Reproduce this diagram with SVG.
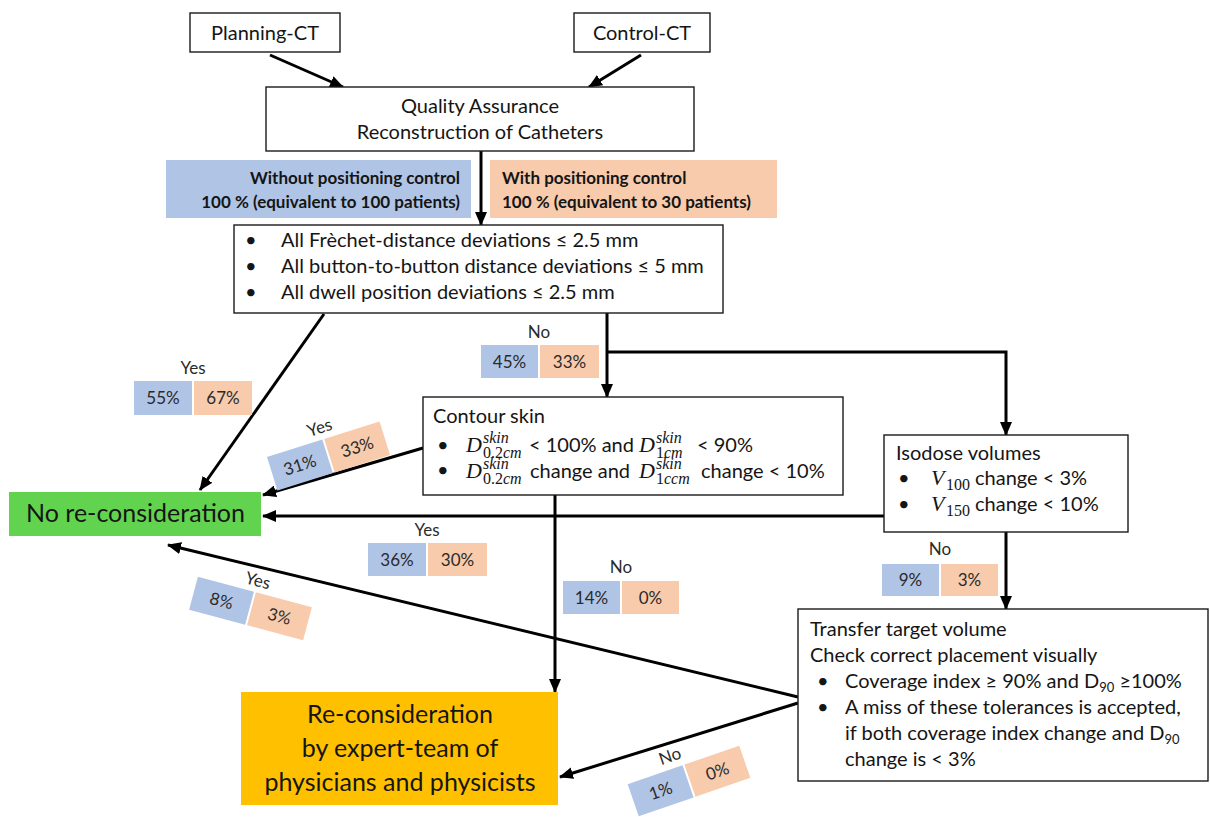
<svg xmlns="http://www.w3.org/2000/svg" width="1210" height="817" viewBox="0 0 1210 817">
<defs>
<marker id="ah" markerUnits="userSpaceOnUse" markerWidth="14" markerHeight="12" refX="13" refY="6" orient="auto">
<path d="M0,0 L14,6 L0,12 Z" fill="#000"/>
</marker>
<style>
.box{fill:#fff;stroke:#1a1a1a;stroke-width:1.4}
.t{font-family:Lato,"Liberation Sans",sans-serif;font-size:20px;fill:#151515}
.b{font-weight:bold;font-size:17px}
.big{font-size:25px}
.p{font-family:Lato,"Liberation Sans",sans-serif;font-size:17px;fill:#2a2a2a;text-anchor:middle}
.m{font-family:"Liberation Serif",serif;font-style:italic;font-size:22px;fill:#151515}
.s{font-family:"Liberation Serif",serif;font-size:16px;fill:#151515}
.v{font-family:"Liberation Serif",serif;font-size:16px;fill:#151515}
.si{font-style:italic}
.bl{fill:#b0c4e6}
.or{fill:#f7cbac}
.la{fill:none;stroke:#000;stroke-width:3;marker-end:url(#ah)}
</style>
</defs>
<rect width="1210" height="817" fill="#fff"/>

<g id="connectors">
<line class="la" x1="270" y1="55" x2="343" y2="87"/>
<line class="la" x1="641" y1="55" x2="589" y2="87"/>
<line class="la" x1="481" y1="151" x2="481" y2="225"/>
<line class="la" x1="324" y1="314" x2="200" y2="490"/>
<line class="la" x1="607" y1="313" x2="607" y2="397"/>
<polyline class="la" points="607,352 1006,352 1006,435"/>
<line class="la" x1="423" y1="448" x2="263" y2="495"/>
<line class="la" x1="884" y1="516" x2="263" y2="516"/>
<line class="la" x1="555" y1="495" x2="555" y2="692"/>
<line class="la" x1="1006" y1="532" x2="1006" y2="609"/>
<line class="la" x1="798" y1="697" x2="168" y2="545"/>
<line class="la" x1="798" y1="703" x2="560" y2="777"/>
</g>

<g id="planning-ct">
<rect class="box" x="190" y="13" width="150" height="39"/>
<text class="t" x="265" y="39.5" text-anchor="middle">Planning-CT</text>
</g>
<g id="control-ct">
<rect class="box" x="574" y="13" width="136" height="39"/>
<text class="t" x="642" y="39.5" text-anchor="middle">Control-CT</text>
</g>
<g id="quality-assurance">
<rect class="box" x="266" y="87" width="428" height="64"/>
<text class="t" x="480" y="113" text-anchor="middle">Quality Assurance</text>
<text class="t" x="480" y="139" text-anchor="middle">Reconstruction of Catheters</text>
</g>
<g id="label-without">
<rect class="bl" x="166" y="160" width="305" height="58"/>
<text class="t b" x="460" y="184" text-anchor="end">Without positioning control</text>
<text class="t b" x="460" y="208" text-anchor="end">100 % (equivalent to 100 patients)</text>
</g>
<g id="label-with">
<rect class="or" x="490" y="160" width="287" height="58"/>
<text class="t b" x="502" y="184">With positioning control</text>
<text class="t b" x="502" y="208">100 % (equivalent to 30 patients)</text>
</g>
<g id="criteria">
<rect class="box" x="234" y="225" width="489" height="88"/>
<text class="t" x="245" y="247">•</text>
<text class="t" x="281" y="247">All Frèchet-distance deviations ≤ 2.5 mm</text>
<text class="t" x="245" y="273">•</text>
<text class="t" x="281" y="273">All button-to-button distance deviations ≤ 5 mm</text>
<text class="t" x="245" y="299">•</text>
<text class="t" x="281" y="299">All dwell position deviations ≤ 2.5 mm</text>
</g>
<g id="no-1">
<text class="p" x="539" y="338">No</text>
<rect class="bl" x="481" y="345" width="57" height="33"/>
<rect class="or" x="540" y="345" width="59" height="33"/>
<text class="p" x="509.5" y="368">45%</text>
<text class="p" x="569.5" y="368">33%</text>
</g>
<g id="yes-1">
<text class="p" x="193" y="374">Yes</text>
<rect class="bl" x="134" y="381" width="58" height="34"/>
<rect class="or" x="194" y="381" width="58" height="34"/>
<text class="p" x="163" y="404">55%</text>
<text class="p" x="223" y="404">67%</text>
</g>
<g id="contour-skin">
<rect class="box" x="423" y="397" width="420" height="98"/>
<text class="t" x="433" y="423">Contour skin</text>
<text class="t" x="437" y="452">•</text>
<text class="t" x="437" y="477">•</text>
<text class="m" x="466" y="452">D</text>
<text class="s si" x="483" y="443">skin</text>
<text class="s" x="483" y="458">0.2<tspan class="si">cm</tspan></text>
<text class="t" x="529" y="452">&lt; 100% and</text>
<text class="m" x="639" y="452">D</text>
<text class="s si" x="656" y="443">skin</text>
<text class="s" x="656" y="458">1<tspan class="si">cm</tspan></text>
<text class="t" x="697" y="452">&lt; 90%</text>
<text class="m" x="466" y="478">D</text>
<text class="s si" x="483" y="469">skin</text>
<text class="s" x="483" y="484">0.2<tspan class="si">cm</tspan></text>
<text class="t" x="530" y="478">change and</text>
<text class="m" x="639" y="478">D</text>
<text class="s si" x="656" y="469">skin</text>
<text class="s" x="656" y="484">1<tspan class="si">ccm</tspan></text>
<text class="t" x="701" y="478">change &lt; 10%</text>
</g>
<g id="isodose">
<rect class="box" x="884" y="435" width="244" height="97"/>
<text class="t" x="896" y="460">Isodose volumes</text>
<text class="t" x="898" y="485">•</text>
<text class="t" x="898" y="511">•</text>
<text class="m" x="931" y="485">V</text>
<text class="v" x="946" y="490">100</text>
<text class="t" x="975" y="485">change &lt; 3%</text>
<text class="m" x="931" y="511">V</text>
<text class="v" x="946" y="516">150</text>
<text class="t" x="975" y="511">change &lt; 10%</text>
</g>
<g id="no-reconsideration">
<rect x="9" y="492" width="252" height="44" fill="#62d34e"/>
<text class="t big" x="135.5" y="522" text-anchor="middle">No re-consideration</text>
</g>
<g id="yes-2">
<g transform="translate(328.5,456) rotate(-17.5)">
<text class="p" x="0" y="-24">Yes</text>
<rect class="bl" x="-59" y="-17.5" width="58" height="35"/>
<rect class="or" x="1" y="-17.5" width="58" height="35"/>
<text class="p" x="-30" y="6">31%</text>
<text class="p" x="30" y="6">33%</text>
</g>
</g>
<g id="yes-3">
<text class="p" x="427" y="536">Yes</text>
<rect class="bl" x="368" y="543" width="58" height="33"/>
<rect class="or" x="428" y="543" width="59" height="33"/>
<text class="p" x="397" y="566">36%</text>
<text class="p" x="457.5" y="566">30%</text>
</g>
<g id="no-2">
<text class="p" x="621" y="573">No</text>
<rect class="bl" x="563" y="581" width="57" height="33"/>
<rect class="or" x="622" y="581" width="57" height="33"/>
<text class="p" x="591.5" y="604">14%</text>
<text class="p" x="650.5" y="604">0%</text>
</g>
<g id="no-3">
<text class="p" x="940" y="555">No</text>
<rect class="bl" x="882" y="564" width="57" height="32"/>
<rect class="or" x="941" y="564" width="57" height="32"/>
<text class="p" x="910.5" y="586">9%</text>
<text class="p" x="969.5" y="586">3%</text>
</g>
<g id="yes-4">
<g transform="translate(250.5,608.5) rotate(15)">
<text class="p" x="0" y="-23">Yes</text>
<rect class="bl" x="-59" y="-17" width="58" height="34"/>
<rect class="or" x="1" y="-17" width="58" height="34"/>
<text class="p" x="-30" y="6">8%</text>
<text class="p" x="30" y="6">3%</text>
</g>
</g>
<g id="transfer-target">
<rect class="box" x="798" y="609" width="410" height="172"/>
<text class="t" x="810" y="636">Transfer target volume</text>
<text class="t" x="810" y="662">Check correct placement visually</text>
<text class="t" x="817" y="688">•</text>
<text class="t" x="845" y="688">Coverage index ≥ 90% and D<tspan font-size="13" dy="4">90</tspan><tspan dy="-4"> ≥100%</tspan></text>
<text class="t" x="817" y="714">•</text>
<text class="t" x="845" y="714">A miss of these tolerances is accepted,</text>
<text class="t" x="845" y="740">if both coverage index change and D<tspan font-size="13" dy="4">90</tspan></text>
<text class="t" x="845" y="766">change is &lt; 3%</text>
</g>
<g id="re-consideration">
<rect x="241" y="692" width="317" height="113" fill="#ffc000"/>
<text class="t big" x="400" y="723" text-anchor="middle">Re-consideration</text>
<text class="t big" x="400" y="757" text-anchor="middle">by expert-team of</text>
<text class="t big" x="400" y="791" text-anchor="middle">physicians and physicists</text>
</g>
<g id="no-4">
<g transform="translate(689,781) rotate(-19)">
<text class="p" x="-10" y="-24">No</text>
<rect class="bl" x="-59" y="-17" width="58" height="34"/>
<rect class="or" x="1" y="-17" width="58" height="34"/>
<text class="p" x="-30" y="6">1%</text>
<text class="p" x="30" y="6">0%</text>
</g>
</g>
</svg>
